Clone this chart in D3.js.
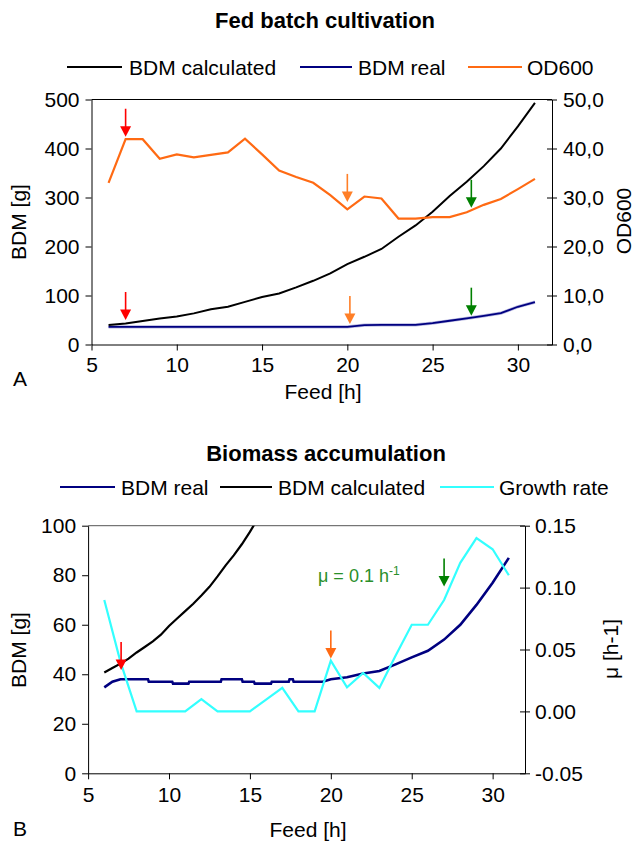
<!DOCTYPE html>
<html><head><meta charset="utf-8">
<script src="https://cdn.jsdelivr.net/npm/d3@7"></script>
<style>body{margin:0;background:#fff} svg{display:block} text{font-family:"Liberation Sans",Arial,sans-serif}</style>
</head><body><svg id="c" width="637" height="842"></svg>
<script>
// ---------- DATA ----------
const hours = [6,7,8,9,10,11,12,13,14,15,16,17,18,19,20,21,22,23,24,25,26,27,28,29,30,31];
// Panel A
const od600 = [33.0,41.9,41.9,37.9,38.8,38.2,38.7,39.2,42.0,38.8,35.5,34.2,33.0,30.5,27.6,30.2,29.8,25.7,25.7,26.0,26.0,27.0,28.5,29.7,31.7,33.8];
const bdmCalcA = [39.8,43,48,53,57,63.5,72,77,87,97,104,116.5,130,145,164,179,195,220,243,271,303,332,364,400,445,493];
const bdmRealA = [36,36,36,36,36,36,36,36,36,36,36,36,36,36,36,39.5,40,40,40,43.5,48.5,53.4,58.5,64,77,86.5];
// Panel B
const growthRate = [0.09,0.04,0,0,0,0,0.01,0,0,0,0.0095,0.019,0,0,0.041,0.0195,0.031,0.019,0.045,0.07,0.07,0.09,0.12,0.14,0.131,0.11];
const calcHoursB = [6,6.5,7,7.5,8,8.5,9,9.5,10,10.5,11,11.5,12,12.5,13,13.5,14,14.5,15,15.5];
const bdmCalcB = [40.7,42.5,44.3,46.3,48.8,51,53.3,56,59.5,62.5,65.5,68.5,71.8,75.3,79.5,84,88,92.5,97.5,103];
const realHoursB = [6,6.5,7,8.7,8.75,10.2,10.25,11.2,11.25,13.2,13.25,14.5,14.55,15.25,15.3,16.3,16.35,17.4,17.45,17.65,17.7,19.5,20,21,22,23,24,25,26,27,28,29,30,31];
const bdmRealB = [34.7,37,38,38,37,37,36.2,36.2,37,37,38,38,37,37,36.2,36.2,37,37,38,38,37,37,38,38.8,40.3,41.3,44,46.8,49.5,54,60,68,77,87];
// Ticks
const xTicks = [5,10,15,20,25,30];
const aLeftTicks = [0,100,200,300,400,500];
const aRightTicks = [0,10,20,30,40,50];
const bLeftTicks = [0,20,40,60,80,100];
const bRightTicks = [-0.05,0,0.05,0.10,0.15];
// Annotations (hour, value at arrow tip, axis)
const arrowsA = [
  {h:7, v:42.4, axis:'R', c:'#ff0000'}, {h:7, v:50, axis:'L', c:'#ff0000'},
  {h:20.0, v:29.1, axis:'R', c:'#ff7f27'}, {h:20.15, v:41.8, axis:'L', c:'#ff7f27'},
  {h:27.27, v:27.9, axis:'R', c:'#008000'}, {h:27.27, v:58.8, axis:'L', c:'#008000'}
];
const arrowsB = [
  {h:7.04, v:41.7, c:'#ff0000'}, {h:20.0, v:46.4, c:'#ff6a13'}, {h:27.0, v:75.4, c:'#008000'}
];

// ---------- DRAW ----------
const SX = 1;
const FS = 21;
const FONT = '"Liberation Sans",Arial,sans-serif';
const svg = d3.select('#c');

function txt(g, x, y, s, o={}) {
  return g.append('text')
    .attr('transform', `translate(${x},${y}) scale(${o.sx||SX},1)` + (o.rot ? ` rotate(${o.rot})` : ''))
    .attr('text-anchor', o.anchor||'start')
    .attr('font-size', o.size||FS)
    .attr('font-weight', o.weight||'normal')
    .attr('fill', o.fill||'#000')
    .text(s);
}
function styleAxis(g, side, pad) {
  g.attr('font-size', FS).attr('font-family', FONT);
  g.selectAll('path.domain').attr('stroke', '#000').attr('stroke-width', 1);
  g.selectAll('.tick line').attr('stroke', '#000');
  const t = g.selectAll('.tick text').attr('fill', '#000');
  if (side === 'left') t.attr('x', -pad);
  if (side === 'right') t.attr('x', pad);
}
function arrow(g, x, tipY, color, len=28, head=10.5, hw=5.5) {
  g.append('line').attr('x1', x).attr('x2', x).attr('y1', tipY - len).attr('y2', tipY - head + 1)
    .attr('stroke', color).attr('stroke-width', 1.6);
  g.append('path').attr('d', `M${x-hw},${tipY-head}L${x+hw},${tipY-head}L${x},${tipY}Z`).attr('fill', color);
}
function legendItem(g, x1, x2, tx, y, color, label) {
  g.append('line').attr('x1', x1).attr('x2', x2).attr('y1', y).attr('y2', y).attr('stroke', color).attr('stroke-width', 2);
  txt(g, tx, y + 7.5, label);
}

// ===== Panel A =====
{
  const P = {x0:91.5, x1:552, y0:99.5, y1:344.5};
  const g = svg.append('g');
  const x = d3.scaleLinear().domain([5,32]).range([P.x0, P.x1]);
  const yL = d3.scaleLinear().domain([0,500]).range([P.y1, P.y0]);
  const yR = d3.scaleLinear().domain([0,50]).range([P.y1, P.y0]);

  txt(g, 325, 28, 'Fed batch cultivation', {anchor:'middle', weight:'bold', size:22});
  legendItem(g, 67, 122, 129, 67, '#000', 'BDM calculated');
  legendItem(g, 300, 352, 358, 67, '#000080', 'BDM real');
  legendItem(g, 468, 522, 527, 67, '#ff6a13', 'OD600');

  g.append('line').attr('x1', P.x0).attr('x2', P.x1).attr('y1', P.y0).attr('y2', P.y0).attr('stroke', '#000');

  const ax = g.append('g').attr('transform', `translate(0,${P.y1})`)
    .call(d3.axisBottom(x).tickValues(xTicks).tickSize(6).tickSizeOuter(0).tickPadding(7));
  styleAxis(ax, 'bottom');
  const al = g.append('g').attr('transform', `translate(${P.x0},0)`)
    .call(d3.axisLeft(yL).tickValues(aLeftTicks).tickSize(6).tickSizeOuter(0));
  styleAxis(al, 'left', 12);
  const ar = g.append('g').attr('transform', `translate(${P.x1},0)`)
    .call(d3.axisRight(yR).tickValues(aRightTicks).tickSize(5).tickSizeOuter(0)
      .tickFormat(d => d3.format('.1f')(d).replace('.', ',')));
  ar.selectAll('.tick line').attr('x1', -5).attr('x2', 5);
  styleAxis(ar, 'right', 11);

  const lineL = d3.line().x((d,i) => x(hours[i])).y(d => yL(d));
  const lineR = d3.line().x((d,i) => x(hours[i])).y(d => yR(d));
  g.append('path').attr('d', lineL(bdmRealA)).attr('fill','none').attr('stroke','#b8b8e0').attr('stroke-width',3.2);
  g.append('path').attr('d', lineL(bdmRealA)).attr('fill','none').attr('stroke','#000080').attr('stroke-width',1.8);
  g.append('path').attr('d', lineL(bdmCalcA)).attr('fill','none').attr('stroke','#000').attr('stroke-width',2);
  g.append('path').attr('d', lineR(od600)).attr('fill','none').attr('stroke','#ff6a13').attr('stroke-width',2.2);

  arrowsA.forEach(a => arrow(g, x(a.h), (a.axis === 'R' ? yR : yL)(a.v), a.c));

  txt(g, 13, 386, 'A');
  txt(g, 323, 399, 'Feed [h]', {anchor:'middle'});
  txt(g, 26, 222, 'BDM [g]', {anchor:'middle', rot:-90});
  txt(g, 631, 221, 'OD600', {anchor:'middle', rot:-90});
}

// ===== Panel B =====
{
  const P = {x0:88.1, x1:525, y0:525.7, y1:773.3};
  const g = svg.append('g');
  const x = d3.scaleLinear().domain([5,32]).range([P.x0, P.x1]);
  const yL = d3.scaleLinear().domain([0,100]).range([P.y1, P.y0]);
  const yR = d3.scaleLinear().domain([-0.05,0.15]).range([P.y1, P.y0]);

  svg.append('defs').append('clipPath').attr('id','clipB').append('rect')
    .attr('x', P.x0).attr('y', P.y0).attr('width', P.x1 - P.x0).attr('height', P.y1 - P.y0);

  txt(g, 326, 461, 'Biomass accumulation', {anchor:'middle', weight:'bold', size:22});
  legendItem(g, 60, 115, 121, 487, '#000080', 'BDM real');
  legendItem(g, 220, 272, 278, 487, '#000', 'BDM calculated');
  legendItem(g, 440, 494, 499, 487, '#33ffff', 'Growth rate');

  g.append('line').attr('x1', P.x0).attr('x2', P.x1).attr('y1', P.y0).attr('y2', P.y0).attr('stroke', '#555');

  const ax = g.append('g').attr('transform', `translate(0,${P.y1})`)
    .call(d3.axisBottom(x).tickValues(xTicks).tickSize(6).tickSizeOuter(0).tickPadding(8));
  styleAxis(ax, 'bottom');
  const al = g.append('g').attr('transform', `translate(${P.x0},0)`)
    .call(d3.axisLeft(yL).tickValues(bLeftTicks).tickSize(6).tickSizeOuter(0));
  styleAxis(al, 'left', 12);
  const ar = g.append('g').attr('transform', `translate(${P.x1},0)`)
    .call(d3.axisRight(yR).tickValues(bRightTicks).tickSize(5).tickSizeOuter(0)
      .tickFormat(d => Math.abs(d) < 1e-9 ? '0.00' : d.toFixed(2)));
  ar.selectAll('.tick line').attr('x1', -5).attr('x2', 5);
  styleAxis(ar, 'right', 10);

  const plot = g.append('g').attr('clip-path', 'url(#clipB)');
  const lineCalc = d3.line().x((d,i) => x(calcHoursB[i])).y(d => yL(d));
  const lineReal = d3.line().x((d,i) => x(realHoursB[i])).y(d => yL(d));
  const lineGr = d3.line().x((d,i) => x(hours[i])).y(d => yR(d));
  plot.append('path').attr('d', lineCalc(bdmCalcB)).attr('fill','none').attr('stroke','#000').attr('stroke-width',2.2);
  plot.append('path').attr('d', lineReal(bdmRealB)).attr('fill','none').attr('stroke','#000080').attr('stroke-width',2.6);
  plot.append('path').attr('d', lineGr(growthRate)).attr('fill','none').attr('stroke','#33ffff').attr('stroke-width',2.2);

  arrowsB.forEach(a => arrow(g, x(a.h), yL(a.v), a.c));

  const mu = txt(g, 318, 582, '', {fill:'#2a8f2a', size:18});
  mu.append('tspan').text('μ = 0.1 h');
  mu.append('tspan').attr('dy', -7).attr('font-size', 12).text('-1');

  txt(g, 13, 836, 'B');
  txt(g, 308, 837, 'Feed [h]', {anchor:'middle'});
  txt(g, 26, 650, 'BDM [g]', {anchor:'middle', rot:-90});
  txt(g, 618, 649, 'μ [h-1]', {anchor:'middle', rot:-90});
}
</script></body></html>
